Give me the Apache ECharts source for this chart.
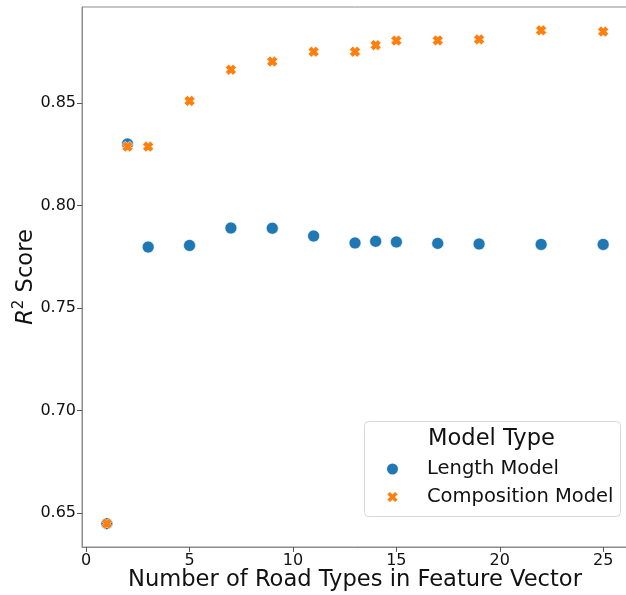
<!DOCTYPE html>
<html>
<head>
<meta charset="utf-8">
<script src="https://cdn.jsdelivr.net/npm/echarts@6/dist/echarts.min.js"></script>
<style>html,body{margin:0;padding:0;background:#fff}#c{width:626px;height:595px}</style>
</head>
<body>
<div id="c"></div>
<script>
const xValues = [1, 2, 3, 5, 7, 9, 11, 13, 14, 15, 17, 19, 22, 25];
const lengthModel = [0.6448, 0.830, 0.7797, 0.7805, 0.789, 0.7889, 0.7851, 0.7817, 0.7825, 0.7822, 0.7815, 0.7812, 0.781, 0.781];
const compositionModel = [0.6448, 0.8287, 0.8287, 0.851, 0.8662, 0.8702, 0.875, 0.875, 0.8782, 0.8804, 0.8805, 0.881, 0.8854, 0.8848];
const xTicks = [0, 5, 10, 15, 20, 25];
const yTicks = [0.65, 0.70, 0.75, 0.80, 0.85];
const seriesNames = ['Length Model', 'Composition Model'];
const legendTitle = 'Model Type';

const FONT = 'DejaVu Sans';
const X_PATH = 'path://M0,3 L3,0 L5,2 L7,0 L10,3 L8,5 L10,7 L7,10 L5,8 L3,10 L0,7 L2,5 Z';

const chart = echarts.init(document.getElementById('c'), null, {renderer: 'canvas'});
chart.setOption({
  animation: false,
  backgroundColor: '#fff',
  grid: {left: 82, right: -2, top: 7, bottom: 48, outerBoundsMode: 'none', containLabel: false,
    show: true, borderColor: '#8c8c8c', borderWidth: 1, backgroundColor: 'transparent'},
  xAxis: {
    type: 'value', min: -0.2, max: 26.2,
    splitLine: {show: false},
    axisLine: {show: true, onZero: false, lineStyle: {color: '#8c8c8c', width: 1}},
    axisTick: {show: true, length: 5, customValues: xTicks, lineStyle: {color: '#555'}},
    axisLabel: {customValues: xTicks, fontFamily: FONT, fontSize: 16, color: '#111', margin: 6},
    name: 'Number of Road Types in Feature Vector',
    nameLocation: 'middle', nameGap: 33, nameMoveOverlap: false,
    nameTextStyle: {fontFamily: FONT, fontSize: 22.6, color: '#111', verticalAlign: 'middle'}
  },
  yAxis: {
    type: 'value', min: 0.6334, max: 0.8968,
    splitLine: {show: false},
    axisLine: {show: true, onZero: false, lineStyle: {color: '#8c8c8c', width: 1}},
    axisTick: {show: true, length: 5, customValues: yTicks, lineStyle: {color: '#555'}},
    axisLabel: {customValues: yTicks, fontFamily: FONT, fontSize: 16, color: '#111', margin: 6,
      formatter: v => v.toFixed(2)},
    name: '{i|R}{s|2}{n| Score}',
    nameLocation: 'middle', nameGap: 57, nameRotate: 90, nameMoveOverlap: false,
    nameTextStyle: {fontFamily: FONT, fontSize: 22.6, color: '#111', verticalAlign: 'middle',
      rich: {i: {fontFamily: FONT, fontSize: 22.6, fontStyle: 'italic', color: '#111', verticalAlign: 'bottom', lineHeight: 26},
             s: {fontFamily: FONT, fontSize: 15, color: '#111', verticalAlign: 'top', lineHeight: 26, padding: [0, 0, 10, 0]},
             n: {fontFamily: FONT, fontSize: 22.6, color: '#111', verticalAlign: 'bottom', lineHeight: 26}}}
  },
  legend: {
    orient: 'vertical', left: 385, top: 459, padding: 0,
    itemWidth: 13, itemHeight: 13, itemGap: 8,
    textStyle: {fontFamily: FONT, fontSize: 19.5, color: '#111', padding: [0, 0, 0, 23]},
    data: [{name: seriesNames[0], icon: 'circle'}, {name: seriesNames[1], icon: X_PATH}]
  },
  graphic: [
    {type: 'rect', left: 364, top: 421, z: 0, shape: {width: 256, height: 95, r: 4},
     style: {fill: 'rgba(255,255,255,0.8)', stroke: '#d8d8d8', lineWidth: 1}},
    {type: 'text', left: 428, top: 428, z: 1,
     style: {text: legendTitle, fontFamily: FONT, fontSize: 22.6, fill: '#111'}}
  ],
  series: [
    {name: seriesNames[0], type: 'scatter', symbol: 'circle', symbolSize: 12,
     itemStyle: {color: '#1f77b4', borderColor: '#fff', borderWidth: 0.6, opacity: 1},
     data: xValues.map((x, i) => [x, lengthModel[i]]), z: 2},
    {name: seriesNames[1], type: 'scatter', symbol: X_PATH, symbolSize: 11,
     itemStyle: {color: '#ff7f0e', borderColor: '#fff', borderWidth: 0.6, opacity: 1},
     data: xValues.map((x, i) => [x, compositionModel[i]]), z: 3}
  ]
});
</script>
</body>
</html>
